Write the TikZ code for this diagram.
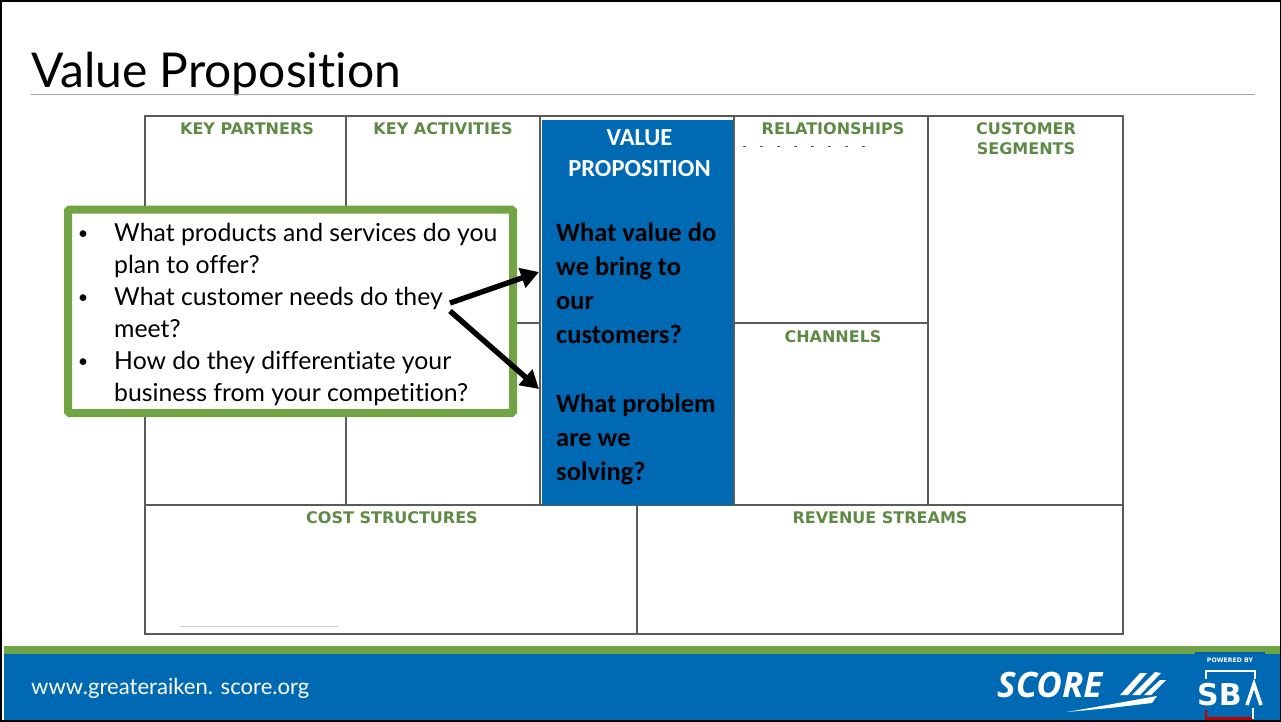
\documentclass[tikz,border=0pt]{standalone}
\usepackage{fontspec}
\setmainfont{Lato}[Ligatures=NoCommon]
\newfontfamily\headfont{DejaVu Sans}
\newfontfamily\bodyfont{Carlito}
\newfontfamily\logofont{Open Sans}
\usetikzlibrary{arrows.meta,positioning,calc}
\definecolor{scoreblue}{HTML}{0069B4}
\definecolor{scoregreen}{HTML}{70A444}
\definecolor{headgreen}{HTML}{5F8A45}
\definecolor{gridgray}{HTML}{5A5A5A}

\begin{document}
\begin{tikzpicture}[x=1pt, y=-1pt,
  arr/.style={-{Triangle[length=18pt,width=20pt]}, line width=5.4pt, black},
  gridline/.style={draw=gridgray, line width=1.1pt},
  head/.style={font=\headfont\fontsize{16}{20}\bfseries\selectfont, text=headgreen, align=center, inner sep=0pt, anchor=base},
  vp/.style={font=\bodyfont\fontsize{26.5}{34}\bfseries\selectfont, align=left, inner sep=0pt, anchor=base west},
  item/.style={font=\fontsize{24.8}{32}\selectfont, align=left, inner sep=0pt, anchor=base west},
  bul/.style={font=\fontsize{18}{32}\selectfont, inner sep=0pt, anchor=base}
]
\useasboundingbox (0,0) rectangle (1281,721);

% Slide frame and title
\fill[white] (0,0) rectangle (1281,721);
\node[font=\fontsize{48}{60}\selectfont, inner sep=0pt, anchor=base west] (title) at (31,87) {Value Proposition};
\draw[gray!70, line width=0.8pt] (31,94) -- (1255,94);

% Canvas grid
\draw[gridline] (145,116) rectangle (1123,634);
\draw[gridline] (145,505) -- (1123,505);
\foreach \x in {346,540,734,928} {
  \draw[gridline] (\x,116) -- (\x,505);
}
\draw[gridline] (637,505) -- (637,634);
\draw[gridline] (346,323) -- (540,323);
\draw[gridline] (734,323) -- (928,323);

% Scan leftovers
\draw[gridgray, line width=0.8pt, dash pattern=on 3pt off 14pt] (743,146) -- (870,146);
\draw[gray!40, line width=0.6pt] (180,626) -- (338,626);

% Cell headings (a multi-line node sits on its last baseline)
\node[head] (partners) at (247,134.5) {KEY PARTNERS};
\node[head] (activities) at (443,134.5) {KEY ACTIVITIES};
\node[head] (relations) at (833,134.5) {RELATIONSHIPS};
\node[head] (segments) at (1026,154.5) {CUSTOMER\\SEGMENTS};
\node[head] (channels) at (833,342) {CHANNELS};
\node[head] (cost) at (392,523.5) {COST STRUCTURES};
\node[head] (revenue) at (880,523.5) {REVENUE STREAMS};

% Value proposition column
\fill[scoreblue] (541.5,120) rectangle (733,505);
\node[font=\bodyfont\fontsize{24.5}{31}\bfseries\selectfont, text=white, align=center, inner sep=0pt, anchor=base] (vptitle) at (639.5,176) {VALUE\\PROPOSITION};
\node[vp] (vpa) at (556,343) {What value do\\we bring to\\our\\customers?};
\node[vp] (vpb) at (556,480) {What problem\\are we\\solving?};

% Question box
\draw[scoregreen, fill=white, line width=8pt, rounded corners=1.5pt] (68,209.5) rectangle (513,413);
\foreach \y in {239,303,367} {
  \node[bul] at (83,\y) {\textbullet};
}
\node[item] (qa) at (114,273) {What products and services do you\\plan to offer?};
\node[item] (qb) at (114,337) {What customer needs do they\\meet?};
\node[item] (qc) at (114,401) {How do they differentiate your\\business from your competition?};

% Arrows into the column
\coordinate (forka) at (450,303);
\coordinate (forkb) at (450,311);
\coordinate (enda) at (539,272);
\coordinate (endb) at (539,389);
\draw[arr] (forka) -- (enda);
\draw[arr] (forkb) -- (endb);

% Footer band
\fill[scoregreen] (4,646) rectangle (1281,654);
\fill[scoreblue] (4,654) rectangle (1281,720);
\node[font=\fontsize{22.1}{26}\selectfont, text=white, inner sep=0pt, anchor=base west] (web) at (31,694) {www.greateraiken. score.org};

% SCORE logo
\node[font=\logofont\fontsize{35}{40}\bfseries\itshape\selectfont, text=white, inner sep=0pt, anchor=base west] (score) at (997,697) {SCORE};
\fill[white] (1120,695) -- (1140,673) -- (1147,673) -- (1128,695) -- cycle;
\fill[white] (1132,695) -- (1155,672) -- (1161,673) -- (1140,695) -- cycle;
\fill[white] (1144,695) -- (1160,680) -- (1166,680) -- (1151,695) -- cycle;
\fill[white] (1067,712) -- (1118,703) -- (1157,696) -- (1152,703) -- (1110,708) -- cycle;

% SBA logo
\fill[scoreblue!90!black] (1195,652) rectangle (1265,654);
\node[font=\headfont\fontsize{6.2}{8}\bfseries\selectfont, text=white, inner sep=0pt, anchor=base] (powered) at (1230,662) {POWERED BY};
\draw[white, line width=2pt] (1205.5,679) -- (1205.5,671) -- (1254.5,671) -- (1254.5,679);
\node[font=\headfont\fontsize{30}{34}\bfseries\selectfont, text=white, inner sep=0pt, anchor=base west] (sba) at (1197,705) {SB};
\draw[white, line width=3.4pt] (1247,705) -- (1254,684) -- (1261,705);
\draw[white, line width=2pt] (1252.5,708) -- (1252.5,719);
\fill[red!75!black] (1205,710) -- (1207,710) -- (1207,717) -- (1252,717) -- (1252,720) -- (1205,720) -- cycle;

% Outer edge
\draw[black, line width=3pt] (0,0) -- (1281,0);
\draw[black, line width=4pt] (0,0) -- (0,721);
\draw[black, line width=2pt] (1281,0) -- (1281,721);
\draw[black, line width=2pt] (0,721) -- (1281,721);

\end{tikzpicture}
\end{document}
